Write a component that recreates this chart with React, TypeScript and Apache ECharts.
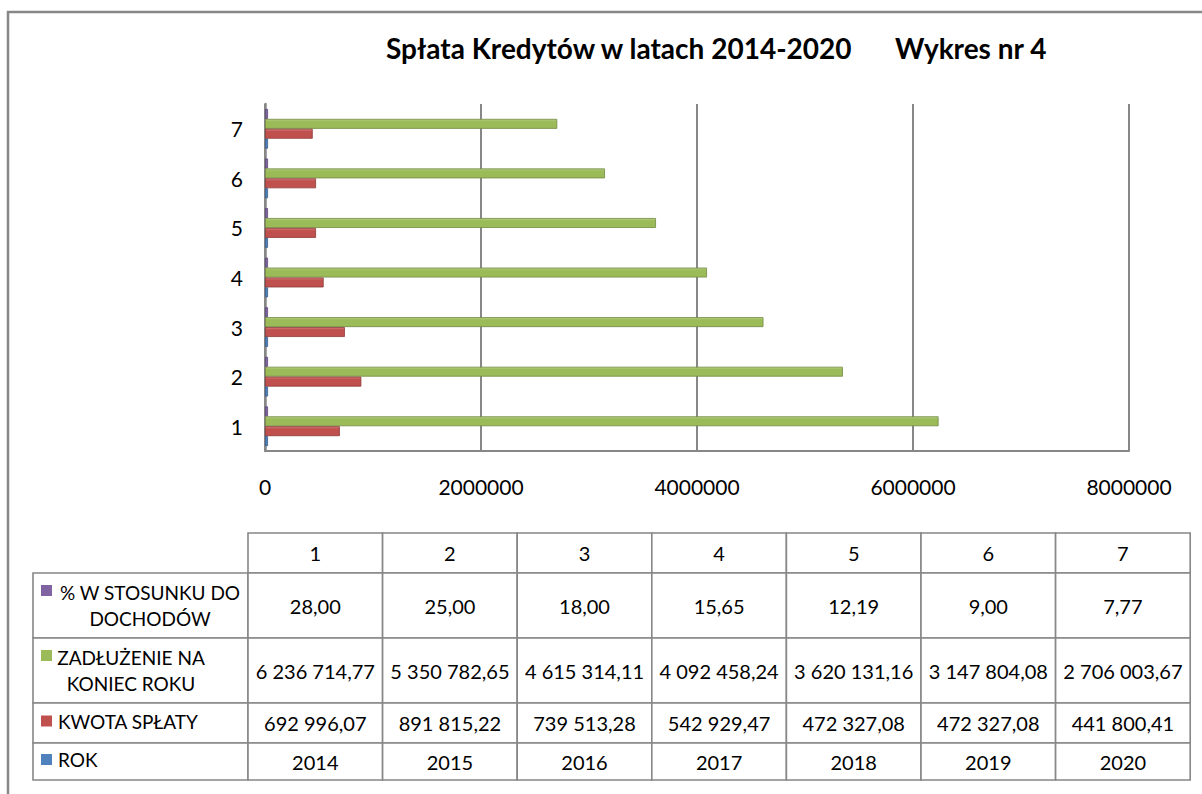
import React, { useEffect, useRef } from "react";
import * as echarts from "echarts";

// ---- data ----
const categories = ["1", "2", "3", "4", "5", "6", "7"];
const rok = [2014, 2015, 2016, 2017, 2018, 2019, 2020];
const kwotaSplaty = [692996.07, 891815.22, 739513.28, 542929.47, 472327.08, 472327.08, 441800.41];
const zadluzenie = [6236714.77, 5350782.65, 4615314.11, 4092458.24, 3620131.16, 3147804.08, 2706003.67];
const procent = [28.0, 25.0, 18.0, 15.65, 12.19, 9.0, 7.77];
const xMin = 0;
const xMax = 8000000;
const xInterval = 2000000;
const titleMain = "Spłata Kredytów w latach 2014-2020";
const titleSide = "Wykres nr 4";
const seriesNames = ["ROK", "KWOTA SPŁATY", "ZADŁUŻENIE NA\nKONIEC ROKU", "% W STOSUNKU DO\nDOCHODÓW"];

const FONT = "Lato, 'Open Sans', sans-serif";
const C_BLUE = "#4F81BD";
const C_RED = "#C0504D";
const C_GREEN = "#9BBB59";
const C_PURPLE = "#8064A2";
const GRAY = "#878787";

function groupThousands(intStr: string): string {
  const out: string[] = [];
  for (let i = intStr.length; i > 0; i -= 3) out.unshift(intStr.slice(Math.max(0, i - 3), i));
  return out.join("\u00a0");
}
function fmtMoney(v: number): string {
  const [i, d] = v.toFixed(2).split(".");
  return groupThousands(i) + "," + d;
}
function fmtPct(v: number): string {
  return v.toFixed(2).replace(".", ",");
}
function fmtInt(v: number): string {
  return String(v);
}

function barGrad(light: string, base: string) {
  return new echarts.graphic.LinearGradient(0, 0, 0, 1, [
    { offset: 0, color: light },
    { offset: 0.25, color: base },
    { offset: 1, color: base },
  ]);
}

export default function App() {
  const ref = useRef<HTMLDivElement>(null);
  useEffect(() => {
    if (!ref.current) return;
    const chart = echarts.init(ref.current, null, { renderer: "svg" });

    // ---- table layout ----
    const colX0 = 248;
    const colW = 134.6;
    const headY = 533;
    const headH = 40;
    const legX = 33;
    const rowsY = [573, 638, 703, 743];
    const rowsH = [65, 65, 40, 37];
    const tableRows = [
      { name: seriesNames[3], color: C_PURPLE, values: procent.map(fmtPct), cx: 150 },
      { name: seriesNames[2], color: C_GREEN, values: zadluzenie.map(fmtMoney), cx: 131 },
      { name: seriesNames[1], color: C_RED, values: kwotaSplaty.map(fmtMoney), cx: -1 },
      { name: seriesNames[0], color: C_BLUE, values: rok.map(fmtInt), cx: -1 },
    ];
    const g: any[] = [];
    // outer frame
    g.push({
      type: "rect",
      shape: { x: 8, y: 12, width: 1400, height: 1000 },
      style: { fill: "none", stroke: GRAY, lineWidth: 2.5 },
      silent: true,
    });
    const cellStroke = { fill: "#fff", stroke: GRAY, lineWidth: 1.6 };
    categories.forEach((c, j) => {
      g.push({ type: "rect", shape: { x: colX0 + j * colW, y: headY, width: colW, height: headH }, style: cellStroke });
      g.push({
        type: "text",
        x: colX0 + j * colW + colW / 2,
        y: headY + headH / 2,
        style: { text: c, fill: "#000", font: `20px ${FONT}`, align: "center", verticalAlign: "middle" },
      });
    });
    tableRows.forEach((r, i) => {
      const y = rowsY[i];
      const h = rowsH[i];
      g.push({ type: "rect", shape: { x: legX, y, width: colX0 - legX, height: h }, style: cellStroke });
      const multi = r.name.includes("\n");
      g.push({
        type: "rect",
        shape: { x: 41, y: multi ? y + 12 : y + (h - 11) / 2 - 2, width: 11, height: 11 },
        style: { fill: r.color },
      });
      g.push({
        type: "text",
        x: multi ? r.cx : 58,
        y: multi ? y + h / 2 : y + h / 2 - 2,
        style: {
          text: r.name,
          fill: "#000",
          font: `19px ${FONT}`,
          align: multi ? "center" : "left",
          verticalAlign: "middle",
          lineHeight: 26,
        },
      });
      r.values.forEach((v, j) => {
        g.push({ type: "rect", shape: { x: colX0 + j * colW, y, width: colW, height: h }, style: cellStroke });
        g.push({
          type: "text",
          x: colX0 + j * colW + colW / 2,
          y: y + h / 2,
          style: { text: v, fill: "#000", font: `20px ${FONT}`, align: "center", verticalAlign: "middle" },
        });
      });
    });

    const barCommon = {
      type: "bar" as const,
      barGap: "0%",
      barCategoryGap: "20%",
      silent: true,
    };

    chart.setOption({
      animation: false,
      title: [
        { text: titleMain, left: 381, top: 29, textStyle: { fontFamily: FONT, fontWeight: "bold", fontSize: 28, color: "#000" } },
        { text: titleSide, right: 150, top: 29, textStyle: { fontFamily: FONT, fontWeight: "bold", fontSize: 28, color: "#000" } },
      ],
      grid: { left: 265, top: 104, width: 864, height: 347, containLabel: false },
      xAxis: {
        type: "value",
        min: xMin,
        max: xMax,
        interval: xInterval,
        axisLine: { show: true, lineStyle: { color: GRAY, width: 2 } },
        axisTick: { show: false },
        splitLine: { show: true, lineStyle: { color: GRAY, width: 2 } },
        axisLabel: { color: "#000", fontFamily: FONT, fontSize: 21, margin: 25, formatter: (v: number) => String(v) },
      },
      yAxis: {
        type: "category",
        data: categories,
        axisLine: { show: true, lineStyle: { color: GRAY, width: 2.5 } },
        axisTick: { show: false },
        axisLabel: { color: "#000", fontFamily: FONT, fontSize: 21, margin: 22 },
      },
      // ECharts stacks horizontal bars top-to-bottom in series order,
      // so the Excel order (ROK at the bottom) is reversed here.
      series: [
        { ...barCommon, name: seriesNames[3], data: procent, barMinHeight: 3, itemStyle: { color: C_PURPLE, borderColor: "#5C4776", borderWidth: 0.8 } },
        { ...barCommon, name: seriesNames[2], data: zadluzenie, itemStyle: { color: barGrad("#B9D08A", C_GREEN), borderColor: "#71893F", borderWidth: 0.8 } },
        { ...barCommon, name: seriesNames[1], data: kwotaSplaty, itemStyle: { color: barGrad("#D7807E", C_RED), borderColor: "#8C3836", borderWidth: 0.8 } },
        { ...barCommon, name: seriesNames[0], data: rok, barMinHeight: 3, itemStyle: { color: C_BLUE, borderColor: "#385D8A", borderWidth: 0.8 } },
      ],
      graphic: g,
    });
    return () => chart.dispose();
  }, []);
  return (
    <div
      ref={ref}
      style={{ position: "fixed", left: 0, top: 0, width: 1202, height: 794, background: "#fff" }}
    />
  );
}
